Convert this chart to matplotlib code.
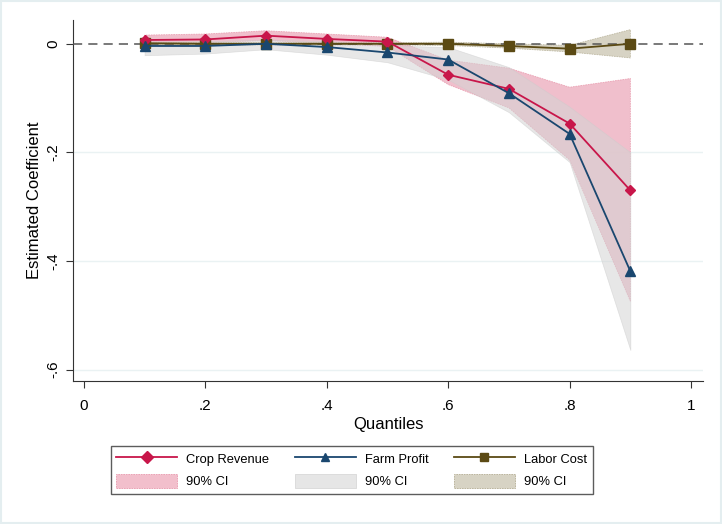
import numpy as np
import matplotlib.pyplot as plt
from matplotlib.patches import Patch, Rectangle
from matplotlib.lines import Line2D

plt.rcParams['font.family'] = ['Liberation Sans', 'DejaVu Sans']

quantiles = [0.1, 0.2, 0.3, 0.4, 0.5, 0.6, 0.7, 0.8, 0.9]

# crop revenue
crop = [0.007, 0.008, 0.015, 0.009, 0.004, -0.057, -0.083, -0.147, -0.270]
crop_lo = [0.002, 0.002, 0.006, 0.001, -0.005, -0.075, -0.118, -0.214, -0.474]
crop_hi = [0.016, 0.018, 0.024, 0.018, 0.012, -0.030, -0.045, -0.080, -0.064]

# farm profit
farm = [-0.004, -0.004, 0.0, -0.006, -0.016, -0.029, -0.091, -0.166, -0.419]
farm_lo = [-0.021, -0.018, -0.010, -0.020, -0.034, -0.066, -0.126, -0.218, -0.564]
farm_hi = [0.004, 0.005, 0.008, 0.005, -0.003, -0.006, -0.043, -0.116, -0.200]

# labor cost
labor = [0.001, 0.0, 0.0, 0.0, 0.0, 0.0, -0.004, -0.009, 0.0]
labor_lo = [-0.002, -0.002, -0.002, -0.002, -0.002, -0.003, -0.008, -0.015, -0.026]
labor_hi = [0.003, 0.002, 0.002, 0.002, 0.002, 0.003, 0.000, -0.003, 0.026]

red = '#c8164a'
navy = '#1a476f'
brown = '#5b4a14'

fig = plt.figure(figsize=(7.22, 5.24), dpi=100)
fig.patches.append(Rectangle((0.002, 0.002), 0.996, 0.996, transform=fig.transFigure,
                             fill=False, edgecolor='#e4eef0', lw=1.5))
ax = fig.add_axes([0.101, 0.273, 0.873, 0.689])

ax.fill_between(quantiles, crop_lo, crop_hi, color='#eeb4c3', alpha=0.85, lw=0.6,
                edgecolor='#e899ad', linestyle=(0, (2, 1)), zorder=2)
ax.fill_between(quantiles, farm_lo, farm_hi, color='#d4d4d4', alpha=0.55, lw=0.5,
                edgecolor='#cccccc', zorder=3)
ax.fill_between(quantiles, labor_lo, labor_hi, color='#cdc9b6', alpha=0.8, lw=0.6,
                edgecolor='#b5ae94', linestyle=(0, (2, 1)), zorder=3)

ax.axhline(0, color='#555555', lw=1.1, ls=(0, (6, 4)), zorder=4)

ax.plot(quantiles, crop, color=red, marker='D', ms=5.5, lw=1.3, zorder=6)
ax.plot(quantiles, farm, color=navy, marker='^', ms=6.5, lw=1.3, zorder=6)
ax.plot(quantiles, labor, color=brown, marker='s', ms=6.5, lw=1.3, zorder=5)

ax.set_xlim(-0.018, 1.02)
ax.set_ylim(-0.621, 0.044)
ax.set_xticks([0, 0.2, 0.4, 0.6, 0.8, 1])
ax.set_xticklabels(['0', '.2', '.4', '.6', '.8', '1'], fontsize=11)
ax.set_yticks([0, -0.2, -0.4, -0.6])
ax.set_yticklabels(['0', '-.2', '-.4', '-.6'], fontsize=11, rotation=90, va='center')
for y in [-0.2, -0.4, -0.6]:
    ax.axhline(y, color='#eaf2f3', lw=1, zorder=0)
ax.spines['top'].set_visible(False)
ax.spines['right'].set_visible(False)
ax.spines['left'].set_color('#333333')
ax.spines['bottom'].set_color('#333333')
ax.tick_params(direction='out', length=5, color='#333333')
ax.tick_params(axis='x', pad=8)
ax.tick_params(axis='y', pad=4)
ax.set_xlabel('Quantiles', fontsize=12, labelpad=3)
ax.set_ylabel('Estimated Coefficient', fontsize=12, labelpad=3)

handles = [
    Line2D([], [], color=red, marker='D', ms=6, lw=1.3),
    Patch(facecolor='#f2bfcc', edgecolor='#e899ad', lw=0.6, linestyle=(0, (2, 1))),
    Line2D([], [], color=navy, marker='^', ms=6, lw=1.3),
    Patch(facecolor='#e6e6e6', edgecolor='#d8d8d8', lw=0.6),
    Line2D([], [], color=brown, marker='s', ms=6, lw=1.3),
    Patch(facecolor='#d7d3c4', edgecolor='#b5ae94', lw=0.6, linestyle=(0, (2, 1))),
]
labels = ['Crop Revenue', '90% CI', 'Farm Profit', '90% CI', 'Labor Cost', '90% CI']
leg = fig.legend(handles, labels, ncol=3, loc='center',
                 bbox_to_anchor=(0.487, 0.103), fontsize=9.3,
                 handlelength=4.7, handleheight=1.4, handletextpad=0.7,
                 columnspacing=2.0, labelspacing=0.55, borderpad=0.45,
                 frameon=True, fancybox=False, edgecolor='#333333')
leg.get_frame().set_linewidth(1.0)

fig.savefig('out.png', dpi=100)
